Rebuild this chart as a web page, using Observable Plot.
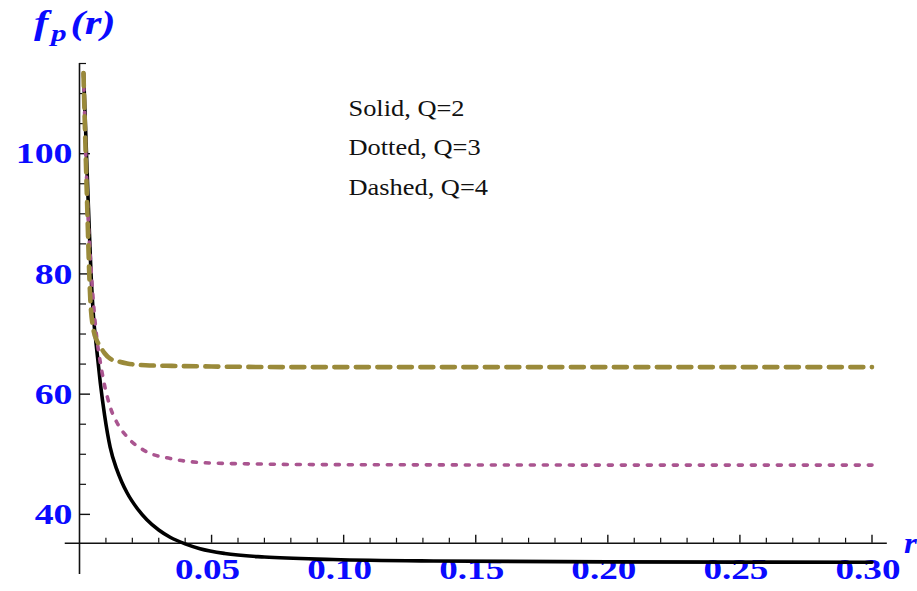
<!DOCTYPE html>
<html><head><meta charset="utf-8">
<script src="https://cdn.jsdelivr.net/npm/d3@7"></script>
<script src="https://cdn.jsdelivr.net/npm/@observablehq/plot@0.6"></script>
<style>body{margin:0;background:#fff} #chart svg{display:block}</style>
</head><body><div id="chart"></div>
<script>
// ---- data ----
const rSolid  = [0.00155,0.0029,0.00435,0.0053,0.0065,0.0079,0.0095,0.0116,0.014,0.016,0.018,0.022,0.0255,0.03,0.0343,0.04,0.0456,0.055,0.07,0.096,0.134,0.2,0.3];
const fSolid  = [113.4,96.8,80.1,72.9,67.5,61.8,56.5,51.2,47.6,45.4,43.6,40.9,39.1,37.4,36.2,35.1,34.3,33.5,32.9,32.5,32.25,32.1,32.05];
const rDotted = [0.0015,0.003,0.0045,0.0053,0.0065,0.0078,0.0091,0.0116,0.0145,0.018,0.0255,0.0343,0.049,0.065,0.081,0.12,0.2,0.3];
const fDotted = [113.4,92,80,75.1,69.5,65.5,62.3,57.9,55.0,52.9,50.4,49.3,48.55,48.4,48.3,48.25,48.2,48.2];
const rDashed = [0.0015,0.0028,0.0041,0.0053,0.0065,0.0079,0.0095,0.0116,0.015,0.018,0.025,0.035,0.05,0.08,0.12,0.2,0.3];
const fDashed = [113.4,93,75.7,70.7,69.0,67.9,66.8,65.9,65.4,65.1,64.8,64.7,64.6,64.5,64.5,64.5,64.5];
const legendLines = ["Solid, Q=2","Dotted, Q=3","Dashed, Q=4"];
const xMajorTicks = [0.05,0.10,0.15,0.20,0.25,0.30];
const xMinorTicks = [0.01,0.02,0.03,0.04,0.06,0.07,0.08,0.09,0.11,0.12,0.13,0.14,0.16,0.17,0.18,0.19,0.21,0.22,0.23,0.24,0.26,0.27,0.28,0.29];
const yMajorTicks = [40,60,80,100];
const yMinorTicks = [45,50,55,65,70,75,85,90,95,105,110,115];
const xDomain = [0, 0.3];
const yDomain = [30, 115];
const axisCrossF = 35.2;          // value of f where the r-axis is drawn
const rAxisExtent = [-0.0054, 0.3058];
const yLabel = {main:"f", sub:"p", rest:"(r)"};
const xLabel = "r";

// ---- layout ----
const W = 917, H = 591, mL = 79, mR = 45.5, mT = 63, mB = 17;
const pxX = (W - mL - mR) / (xDomain[1] - xDomain[0]);
const pxY = (H - mT - mB) / (yDomain[1] - yDomain[0]);
const toRows = (rs, fs) => rs.map((r, i) => ({r, f: fs[i]}));
const BLUE = "#0a0aff";

const plot = Plot.plot({
  width: W, height: H,
  marginLeft: mL, marginRight: mR, marginTop: mT, marginBottom: mB,
  x: {domain: xDomain},
  y: {domain: yDomain},
  style: {fontFamily: "Liberation Serif", background: "white", overflow: "visible"},
  marks: [
    // axes lines
    Plot.ruleX([0], {y1: yDomain[0], y2: yDomain[1], stroke: "#111", strokeWidth: 1.6}),
    Plot.ruleY([axisCrossF], {x1: rAxisExtent[0], x2: rAxisExtent[1], stroke: "#111", strokeWidth: 1.6}),
    // ticks (pointing into the plot)
    Plot.ruleX(xMajorTicks, {x: d => d, y1: axisCrossF, y2: axisCrossF + 8 / pxY, stroke: "#111", strokeWidth: 1.4}),
    Plot.ruleX(xMinorTicks, {x: d => d, y1: axisCrossF, y2: axisCrossF + 5 / pxY, stroke: "#111", strokeWidth: 1.2}),
    Plot.ruleY(yMajorTicks, {y: d => d, x1: 0, x2: 11 / pxX, stroke: "#111", strokeWidth: 1.4}),
    Plot.ruleY(yMinorTicks, {y: d => d, x1: 0, x2: 7 / pxX, stroke: "#111", strokeWidth: 1.2}),
    // tick labels
    Plot.axisX(xMajorTicks, {anchor: "bottom", tickSize: 0, tickPadding: 0, dy: -16, dx: -4,
      tickFormat: d3.format(".2f"), fill: BLUE, fontSize: 29, fontWeight: "bold", label: null}),
    Plot.axisY(yMajorTicks, {anchor: "left", tickSize: 0, tickPadding: 7,
      fill: BLUE, fontSize: 30, fontWeight: "bold", label: null}),
    // curves
    Plot.line(toRows(rSolid, fSolid), {x: "r", y: "f", stroke: "#000", strokeWidth: 3.6, curve: "monotone-x"}),
    Plot.line(toRows(rDotted, fDotted), {x: "r", y: "f", stroke: "#aa5590", strokeWidth: 3.6,
      strokeDasharray: "4,9", curve: "monotone-x"}),
    Plot.line(toRows(rDashed, fDashed), {x: "r", y: "f", stroke: "#9a8a3a", strokeWidth: 4.6,
      strokeDasharray: "13,8.5", curve: "monotone-x"}),
    // legend text
    Plot.text([legendLines.join("\n")], {frameAnchor: "top-left", dx: 269, dy: 24, text: d => d,
      textAnchor: "start", lineAnchor: "top", lineHeight: 1.65, fontSize: 24, fill: "#111"})
  ]
});

document.getElementById("chart").appendChild(plot);

// horizontal stretch of texts about their anchor, as in the reference
function stretch(sel, s) {
  sel.each(function() {
    const t = this.getAttribute("transform") || "";
    this.setAttribute("transform", `${t} scale(${s},1)`);
  });
}
const svg = d3.select(plot);
stretch(svg.selectAll('g[aria-label="x-axis tick label"] text'), 1.28);
stretch(svg.selectAll('g[aria-label="y-axis tick label"] text'), 1.26);
stretch(svg.selectAll('g[aria-label="text"] text'), 1.1);

// axis labels
const yl = svg.append("text")
  .attr("transform", "translate(34,34) scale(1.3,1)")
  .attr("text-anchor", "start")
  .attr("fill", BLUE).attr("font-family", "Liberation Serif")
  .attr("font-weight", "bold").attr("font-style", "italic").attr("font-size", 33);
yl.append("tspan").text(yLabel.main);
yl.append("tspan").attr("font-size", 24).attr("dy", 7).attr("dx", 2).text(yLabel.sub);
yl.append("tspan").attr("dy", -7).attr("dx", 3).text(yLabel.rest);
svg.append("text")
  .attr("transform", "translate(904,553) scale(1.1,1)")
  .attr("text-anchor", "start")
  .attr("fill", BLUE).attr("font-family", "Liberation Serif")
  .attr("font-weight", "bold").attr("font-style", "italic").attr("font-size", 30)
  .text(xLabel);
</script>
</body></html>
